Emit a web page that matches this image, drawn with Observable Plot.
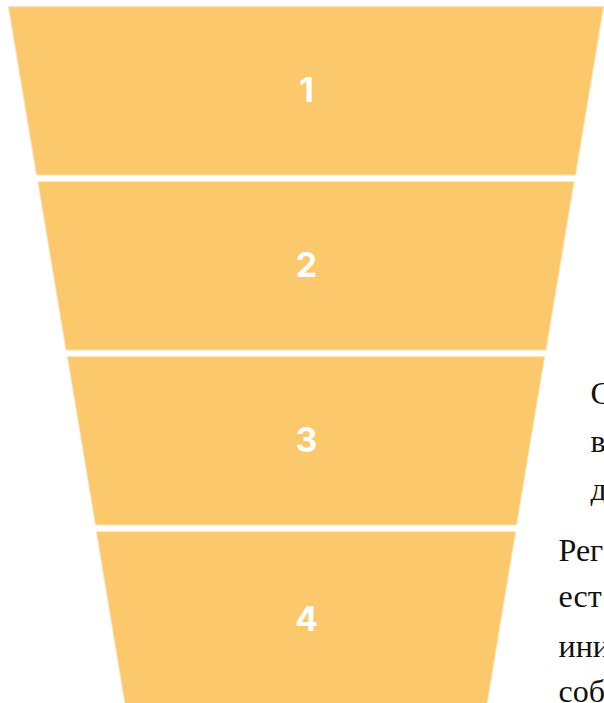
<!DOCTYPE html>
<html>
<head>
<meta charset="utf-8">
<script src="https://cdn.jsdelivr.net/npm/d3@7"></script>
<script src="https://cdn.jsdelivr.net/npm/@observablehq/plot@0.6"></script>
<style>
  html, body { margin: 0; padding: 0; background: #fff; overflow: hidden; }
</style>
</head>
<body>
<div id="chart"></div>
<script>
// Funnel stages (labels) and their widths at the top and bottom of each stage
const stages = ["1", "2", "3", "4"];
const topWidths = [595, 536, 477, 419];
const bottomWidths = [539, 480, 421, 361];

// Cropped body text visible at the right edge of the picture
const sideText = ["С", "в", "д", "Рег", "ест", "ини", "соб"];

const gap = 0.04; // white separator between stages, in stage units

const segs = [];
stages.forEach((s, i) => {
  const top = i;
  const bottom = i === stages.length - 1 ? i + 1 : i + 1 - gap;
  segs.push({stage: s, y: top, w: topWidths[i]});
  segs.push({stage: s, y: bottom, w: bottomWidths[i]});
});
const labels = stages.map((s, i) => {
  const bottom = i === stages.length - 1 ? i + 1 : i + 1 - gap;
  return {stage: s, y: (i + bottom) / 2};
});

// side text positions (y in stage units, x in horizontal units)
const sideY = [2.207, 2.483, 2.753, 3.103, 3.368, 3.655, 3.908];
const sideRows = sideText.map((t, i) => ({text: t, y: sideY[i], x: i < 3 ? 284 : 252}));

const chart = Plot.plot({
  width: 604,
  height: 703,
  margin: 0,
  style: {background: "#ffffff", overflow: "hidden"},
  x: {domain: [-306, 298], range: [0, 604], axis: null},
  y: {domain: [0, 4], range: [7, 707], axis: null},
  marks: [
    Plot.areaX(segs, {
      y: "y",
      x1: d => -d.w / 2,
      x2: d => d.w / 2,
      z: "stage",
      fill: "#FBC96B",
      stroke: "#FDE0B6",
      strokeWidth: 1,
      curve: "linear"
    }),
    Plot.text(labels, {
      x: 0,
      y: "y",
      text: "stage",
      fill: "#ffffff",
      fontSize: 34,
      fontWeight: 700,
      fontFamily: "Inter, 'Open Sans', sans-serif"
    }),
    Plot.text(sideRows, {
      x: "x",
      y: "y",
      text: "text",
      textAnchor: "start",
      fill: "#111111",
      fontSize: 32,
      fontFamily: "'Liberation Serif', 'DejaVu Serif', serif"
    })
  ]
});
document.getElementById("chart").appendChild(chart);
</script>
</body>
</html>
